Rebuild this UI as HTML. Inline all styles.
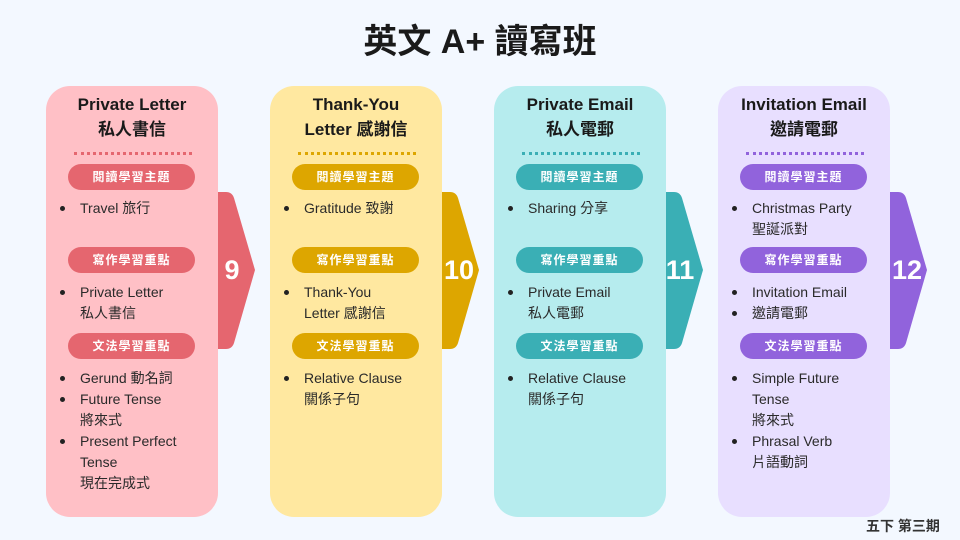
<!DOCTYPE html>
<html><head><meta charset="utf-8"><style>
body{margin:0;width:960px;height:540px;background:#f3f8ff;position:relative;overflow:hidden;font-family:"Liberation Sans","Noto Sans CJK TC",sans-serif;color:#222}
.t{position:absolute;white-space:nowrap}
.card{position:absolute;top:86px;width:172px;height:431px;border-radius:24px}
.h{position:absolute;left:0;width:172px;text-align:center;font-weight:bold;font-size:17px;line-height:24px;color:#1a1a1a}
.dot{position:absolute;left:28px;width:118px;top:66px;border-top:3px dotted}
.pill{position:absolute;left:22px;width:127px;height:26px;border-radius:13px;color:#fff;font-weight:bold;font-size:12px;line-height:26px;text-align:center;letter-spacing:1px}
.li{position:absolute;left:34px;font-size:14px;line-height:21px;white-space:nowrap;color:#2a2a2a}
.b{position:absolute;left:14px;width:5px;height:5px;border-radius:50%;background:#222}
.num{position:absolute;top:254px;font-weight:bold;font-size:27px;color:#fff;line-height:32px;text-align:center}
</style></head><body>
<div class="t" style="left:0;width:960px;text-align:center;top:20px;font-size:34px;font-weight:bold;line-height:44px;color:#1a1a1a">英文 A+ 讀寫班</div>
<div class="t" style="left:866px;top:516px;font-size:14px;font-weight:bold;color:#333;line-height:20px">五下 第三期</div>

<svg width="960" height="540" style="position:absolute;left:0;top:0">
<path d="M217 192 H226 Q232 192 234 198 L255 270 L234 343 Q232 349 226 349 H217 Z" fill="#e5666f"/>
<path d="M441 192 H450 Q456 192 458 198 L479 270 L458 343 Q456 349 450 349 H441 Z" fill="#dda600"/>
<path d="M665 192 H674 Q680 192 682 198 L703 270 L682 343 Q680 349 674 349 H665 Z" fill="#3aafb5"/>
<path d="M889 192 H898 Q904 192 906 198 L927 270 L906 343 Q904 349 898 349 H889 Z" fill="#9163dc"/>
</svg>
<div class="num" style="left:217px;width:30px">9</div>
<div class="num" style="left:441px;width:36px">10</div>
<div class="num" style="left:665px;width:30px">11</div>
<div class="num" style="left:889px;width:36px">12</div>

<!-- card 1 -->
<div class="card" style="left:46px;background:#ffc0c6">
<div class="h" style="top:7px">Private Letter</div>
<div class="h" style="top:32px">私人書信</div>
<div class="dot" style="border-color:#e5666f"></div>
<div class="pill" style="top:78px;background:#e5666f">閱讀學習主題</div>
<div class="b" style="top:120px"></div><div class="li" style="top:112px">Travel 旅行</div>
<div class="pill" style="top:161px;background:#e5666f">寫作學習重點</div>
<div class="b" style="top:204px"></div><div class="li" style="top:196px">Private Letter<br>私人書信</div>
<div class="pill" style="top:247px;background:#e5666f">文法學習重點</div>
<div class="b" style="top:290px"></div><div class="b" style="top:311px"></div><div class="b" style="top:353px"></div>
<div class="li" style="top:282px">Gerund 動名詞<br>Future Tense<br>將來式<br>Present Perfect<br>Tense<br>現在完成式</div>
</div>

<!-- card 2 -->
<div class="card" style="left:270px;background:#ffe8a0">
<div class="h" style="top:7px">Thank-You</div>
<div class="h" style="top:32px">Letter 感謝信</div>
<div class="dot" style="border-color:#dda600"></div>
<div class="pill" style="top:78px;background:#dda600">閱讀學習主題</div>
<div class="b" style="top:120px"></div><div class="li" style="top:112px">Gratitude 致謝</div>
<div class="pill" style="top:161px;background:#dda600">寫作學習重點</div>
<div class="b" style="top:204px"></div><div class="li" style="top:196px">Thank-You<br>Letter 感謝信</div>
<div class="pill" style="top:247px;background:#dda600">文法學習重點</div>
<div class="b" style="top:290px"></div><div class="li" style="top:282px">Relative Clause<br>關係子句</div>
</div>

<!-- card 3 -->
<div class="card" style="left:494px;background:#b6ecee">
<div class="h" style="top:7px">Private Email</div>
<div class="h" style="top:32px">私人電郵</div>
<div class="dot" style="border-color:#3aafb5"></div>
<div class="pill" style="top:78px;background:#3aafb5">閱讀學習主題</div>
<div class="b" style="top:120px"></div><div class="li" style="top:112px">Sharing 分享</div>
<div class="pill" style="top:161px;background:#3aafb5">寫作學習重點</div>
<div class="b" style="top:204px"></div><div class="li" style="top:196px">Private Email<br>私人電郵</div>
<div class="pill" style="top:247px;background:#3aafb5">文法學習重點</div>
<div class="b" style="top:290px"></div><div class="li" style="top:282px">Relative Clause<br>關係子句</div>
</div>

<!-- card 4 -->
<div class="card" style="left:718px;background:#e8dfff">
<div class="h" style="top:7px">Invitation Email</div>
<div class="h" style="top:32px">邀請電郵</div>
<div class="dot" style="border-color:#9163dc"></div>
<div class="pill" style="top:78px;background:#9163dc">閱讀學習主題</div>
<div class="b" style="top:120px"></div><div class="li" style="top:112px">Christmas Party<br>聖誕派對</div>
<div class="pill" style="top:161px;background:#9163dc">寫作學習重點</div>
<div class="b" style="top:204px"></div><div class="b" style="top:225px"></div><div class="li" style="top:196px">Invitation Email<br>邀請電郵</div>
<div class="pill" style="top:247px;background:#9163dc">文法學習重點</div>
<div class="b" style="top:290px"></div><div class="b" style="top:353px"></div>
<div class="li" style="top:282px">Simple Future<br>Tense<br>將來式<br>Phrasal Verb<br>片語動詞</div>
</div>
</body></html>
